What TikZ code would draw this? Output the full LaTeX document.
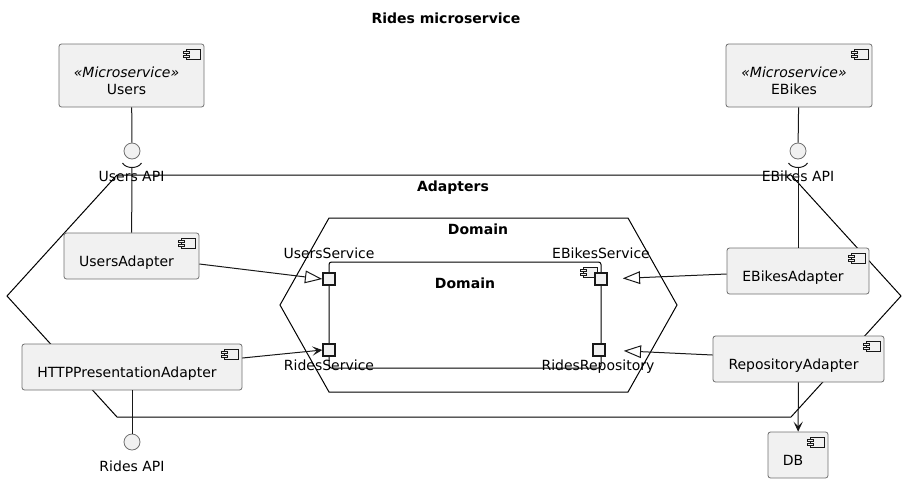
\documentclass[tikz,border=0pt]{standalone}
\usepackage{fontspec}
\setmainfont{DejaVu Sans}
\usetikzlibrary{arrows.meta}
\usetikzlibrary{calc}
\usepackage{xcolor}

\definecolor{compfill}{HTML}{F1F1F1}
\definecolor{compline}{HTML}{181818}
\definecolor{boxline}{HTML}{707070}
\newdimen\unitpx
\unitpx=0.75pt

\begin{document}
\begin{tikzpicture}[x=\unitpx, y=-\unitpx,
    font=\fontsize{10.5}{13}\selectfont,
    hexline/.style={draw=black, line width=0.75pt},
    conn/.style={draw=compline, line width=0.75pt},
    implarrow/.style={conn, -{Triangle[open, length=13pt, width=9.5pt]}},
    deparrow/.style={conn, -{Stealth[length=7.5pt, width=7pt, inset=3.5pt]}},
    comp/.style={draw=boxline, line width=0.6pt, fill=compfill, rounded corners=2.5*\unitpx, inner sep=0pt,
      path picture={
        \coordinate (ne) at (path picture bounding box.north east);
        \draw[compline, line width=0.5pt, fill=compfill, sharp corners] ($(ne)+(-18,5)$) rectangle ($(ne)+(-4,15)$);
        \draw[compline, line width=0.5pt, fill=compfill, sharp corners] ($(ne)+(-21,7)$) rectangle ($(ne)+(-15,9)$);
        \draw[compline, line width=0.5pt, fill=compfill, sharp corners] ($(ne)+(-21,11)$) rectangle ($(ne)+(-15,13)$);
      }},
    comptext/.style={align=center, xshift=-5*\unitpx, yshift=-5*\unitpx, inner sep=0pt},
    comptext1/.style={comptext, text height=7.7pt, text depth=0pt},
    iface/.style={circle, draw=boxline, line width=0.6pt, fill=compfill, minimum size=16*\unitpx, inner sep=0pt},
    port/.style={rectangle, draw=compline, line width=1.1pt, fill=compfill, minimum size=12*\unitpx, inner sep=0pt},
    txt/.style={inner sep=0pt, text height=7.7pt, text depth=0pt},
    boldtxt/.style={txt, font=\fontsize{10.5}{13}\selectfont\bfseries}]

        \useasboundingbox (0,0) rectangle (906,483);

        % Title
        \node[boldtxt] (title) at (446,18) {Rides microservice};

        % Adapters hexagon
        \draw[hexline] (7,296) -- (117,175) -- (791,175) -- (901,296) -- (791,417) -- (117,417) -- cycle;
        \node[boldtxt] (adaptersL) at (453,186) {Adapters};

        % Domain hexagon
        \draw[hexline] (280,305) -- (329,218) -- (628,218) -- (677,305) -- (628,392) -- (329,392) -- cycle;
        \node[boldtxt] (domainHexL) at (478,229) {Domain};

        % Domain component and its ports
        \node[comp, fill=none, draw=black, line width=0.75pt, minimum width=272*\unitpx, minimum height=106*\unitpx] (domain) at (465,315) {};
        \node[boldtxt] (domainL) at (465,283) {Domain};

        \node[port] (usersSrv) at (329,279) {};
        \node[port] (ridesSrv) at (329,350) {};
        \node[port] (ebikesSrv) at (601,279) {};
        \node[port] (ridesRepo) at (599,350) {};
        \node[txt] (usersSrvL) at (329,253) {UsersService};
        \node[txt] (ridesSrvL) at (329,365) {RidesService};
        \node[txt] (ebikesSrvL) at (601,253) {EBikesService};
        \node[txt] (ridesRepoL) at (598,365) {RidesRepository};

        % Microservices
        \node[comp, minimum width=145*\unitpx, minimum height=63*\unitpx,
          label={[comptext]center:{\itshape «Microservice»}\\Users}] (users) at (131.5,75.5) {};
        \node[comp, minimum width=146*\unitpx, minimum height=63*\unitpx,
          label={[comptext]center:{\itshape «Microservice»}\\EBikes}] (ebikes) at (799,75.5) {};

        % Adapters
        \node[comp, minimum width=135*\unitpx, minimum height=46*\unitpx,
          label={[comptext1]center:UsersAdapter}] (usersAd) at (131.5,256) {};
        \node[comp, minimum width=220*\unitpx, minimum height=46*\unitpx,
          label={[comptext1]center:HTTPPresentationAdapter}] (httpAd) at (132,367) {};
        \node[comp, minimum width=142*\unitpx, minimum height=46*\unitpx,
          label={[comptext1]center:EBikesAdapter}] (ebikesAd) at (798,271) {};
        \node[comp, minimum width=171*\unitpx, minimum height=46*\unitpx,
          label={[comptext1]center:RepositoryAdapter}] (repoAd) at (798.5,359) {};
        \node[comp, minimum width=60*\unitpx, minimum height=46*\unitpx,
          label={[comptext1]center:DB}] (db) at (798,455) {};

        % Interfaces
        \node[iface] (usersApi) at (132,151) {};
        \node[iface] (ebikesApi) at (798,151) {};
        \node[iface] (ridesApi) at (132,442) {};
        \node[txt] (usersApiL) at (131.5,176) {Users API};
        \node[txt] (ebikesApiL) at (798,176) {EBikes API};
        \node[txt] (ridesApiL) at (132,466) {Rides API};

        % Provided and required interfaces
        \draw[conn] (users) -- (usersApi);
        \draw[conn] (ebikes) -- (ebikesApi);
        \draw[conn] (httpAd) -- (ridesApi);
        \foreach \api/\ad in {usersApi/usersAd, ebikesApi/ebikesAd}
        {
          \draw[conn] ($(\api)+(-9.5,12)$) .. controls ($(\api)+(-6,18)$) and ($(\api)+(6,18)$) .. ($(\api)+(9.5,12)$);
          \coordinate (\api Sock) at ($(\api)+(0,16.5)$);
          \draw[conn] (\api Sock) -- (\ad);
        }

        % Adapters to ports
        \draw[implarrow] ([yshift=-8*\unitpx]usersAd.east) -- (usersSrv.west);
        \draw[deparrow] ([yshift=9*\unitpx]httpAd.east) -- (ridesSrv.west);
        \draw[implarrow, shorten >=15*\unitpx] ([yshift=-3*\unitpx]ebikesAd.west) -- (ebikesSrv.east);
        \draw[implarrow, shorten >=18*\unitpx] ([yshift=4*\unitpx]repoAd.west) -- (ridesRepo.east);
        \draw[deparrow] (repoAd) -- (db);
\end{tikzpicture}
\end{document}
